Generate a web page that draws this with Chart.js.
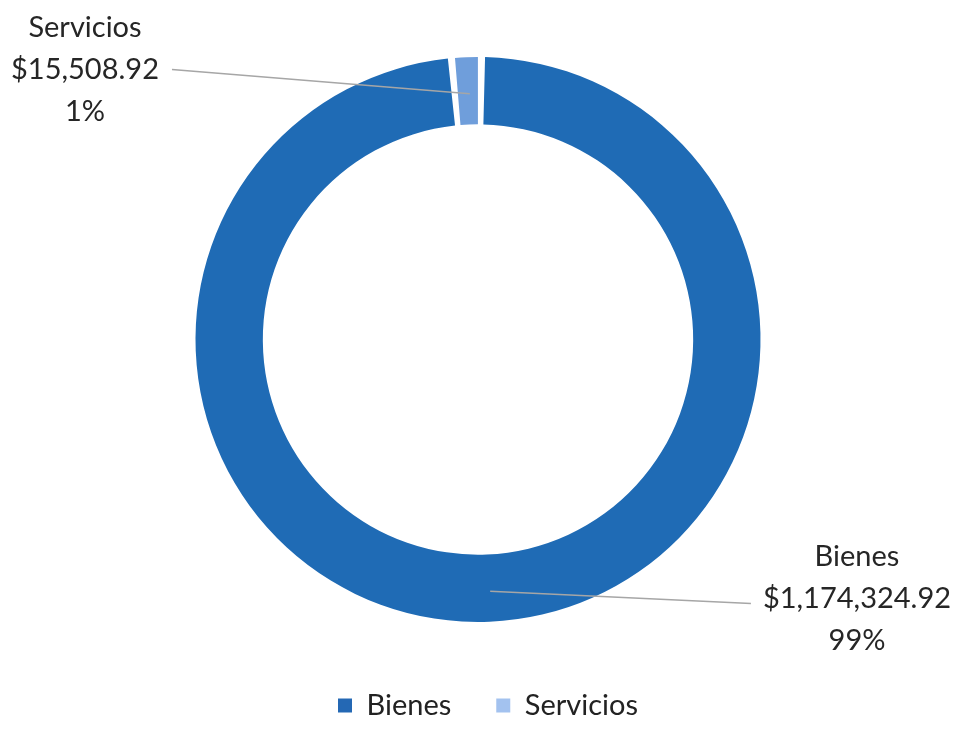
<!DOCTYPE html>
<html>
<head>
<meta charset="utf-8">
<script src="https://cdn.jsdelivr.net/npm/chart.js@4/dist/chart.umd.min.js"></script>
<style>
  html, body { margin: 0; padding: 0; background: #ffffff; }
  #wrap { width: 956px; height: 729px; position: relative; }
</style>
</head>
<body>
<div id="wrap"><canvas id="c" width="956" height="729"></canvas></div>
<script>
const categories = ['Bienes', 'Servicios'];
const values = [1174324.92, 15508.92];
const sliceColors = ['#1f6bb5', '#6f9edb'];
const legendColors = ['#2468b4', '#a3c2ef'];

const FONT = 'Lato, "Open Sans", sans-serif';
const total = values.reduce((a, b) => a + b, 0);
const money = v => '$' + v.toLocaleString('en-US', { minimumFractionDigits: 2, maximumFractionDigits: 2 });
const pct = v => Math.round(v / total * 100) + '%';

// label placement relative to chart center (layout only)
const labelPlacement = [
  { dx: 379, dy: 259, side: 'right' },
  { dx: -393, dy: -270, side: 'left' }
];

const leaderLabels = {
  id: 'leaderLabels',
  afterLayout(chart) {
    // nudge the legend row to the right, as in the reference
    const lg = chart.legend;
    if (lg) { lg.left += 10; lg.right += 10; }
  },
  afterDatasetsDraw(chart) {
    const ctx = chart.ctx;
    const meta = chart.getDatasetMeta(0);
    const ca = chart.chartArea;
    const cx = (ca.left + ca.right) / 2;
    const cy = (ca.top + ca.bottom) / 2;
    const lh = 42;
    ctx.save();
    ctx.font = '29px ' + FONT;
    meta.data.forEach((arc, i) => {
      const p = labelPlacement[i];
      const lines = [categories[i], money(values[i]), pct(values[i])];
      const tx = cx + p.dx, ty = cy + p.dy;
      const maxW = Math.max(...lines.map(l => ctx.measureText(l).width));
      const tp = arc.tooltipPosition();
      let sx, sy;
      if (p.side === 'left') { sx = tx + maxW / 2 + 13; sy = ty; }
      else { sx = tx - maxW / 2 - 12; sy = ty + 5; }
      ctx.strokeStyle = '#a6a6a6';
      ctx.lineWidth = 1.5;
      ctx.beginPath();
      ctx.moveTo(sx, sy);
      ctx.lineTo(tp.x + 2, tp.y + 3);
      ctx.stroke();
      ctx.fillStyle = '#262626';
      ctx.textAlign = 'center';
      ctx.textBaseline = 'middle';
      lines.forEach((l, k) => ctx.fillText(l, tx, ty + (k - 1) * lh));
    });
    ctx.restore();
  }
};

new Chart(document.getElementById('c'), {
  type: 'doughnut',
  data: {
    labels: categories,
    datasets: [{
      data: values,
      backgroundColor: sliceColors,
      borderWidth: 0,
      spacing: 4
    }]
  },
  options: {
    responsive: false,
    animation: false,
    cutout: '76%',
    layout: { padding: { left: 193, right: 193, top: 57, bottom: -1 } },
    plugins: {
      tooltip: { enabled: false },
      legend: {
        position: 'bottom',
        title: { display: true, text: ' ', color: 'rgba(0,0,0,0)', font: { size: 10 }, padding: { top: 0, bottom: 12 } },
        labels: {
          boxWidth: 14,
          boxHeight: 14,
          padding: 45,
          color: '#222222',
          font: { family: FONT, size: 29 },
          generateLabels(chart) {
            return categories.map((c, i) => ({
              text: c,
              fillStyle: legendColors[i],
              strokeStyle: legendColors[i],
              fontColor: '#222222',
              lineWidth: 0,
              hidden: false,
              index: i,
              datasetIndex: 0
            }));
          }
        }
      }
    }
  },
  plugins: [leaderLabels]
});
</script>
</body>
</html>
